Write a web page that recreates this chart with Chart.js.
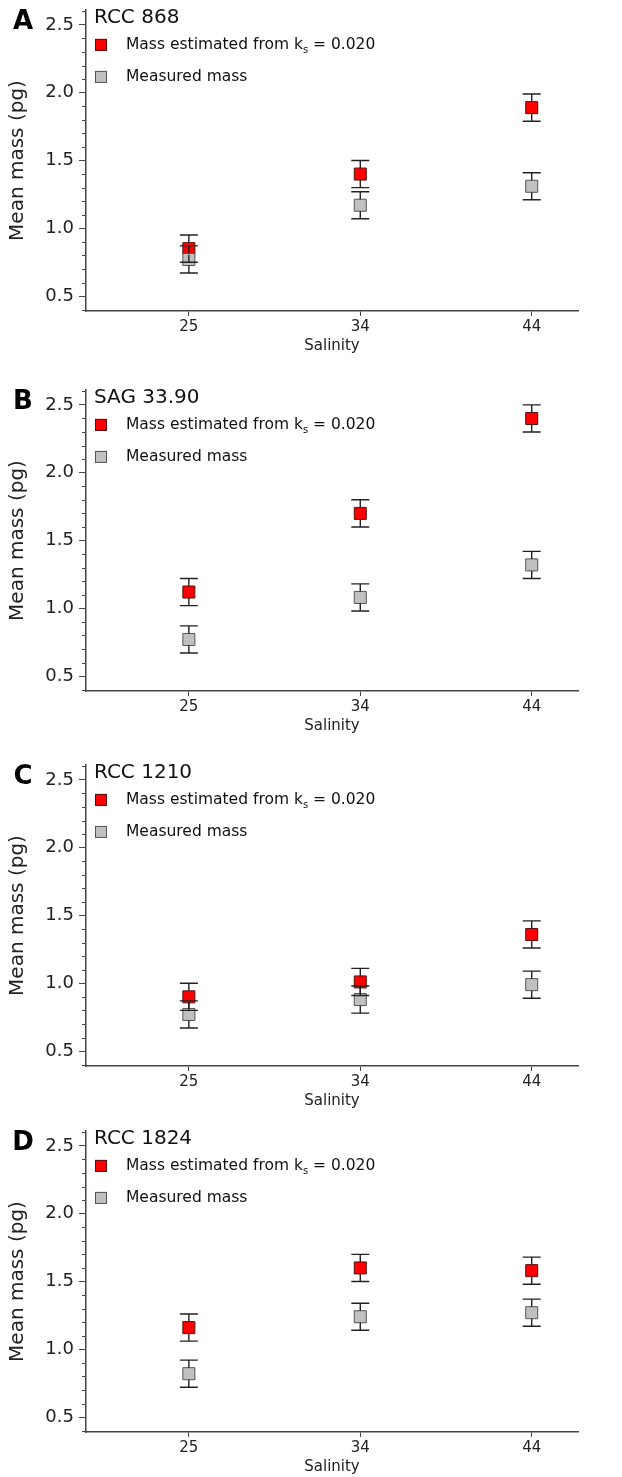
<!DOCTYPE html>
<html>
<head>
<meta charset="utf-8">
<script src="https://cdn.jsdelivr.net/npm/chart.js@4"></script>
<style>
  html, body { margin: 0; padding: 0; background: #fff; overflow: hidden; }
  #wrap { position: relative; width: 622px; height: 1477px; }
  canvas { position: absolute; left: 0; }
</style>
</head>
<body>
<div id="wrap">
  <canvas id="panelA" width="622" height="359" style="top:0px"></canvas>
  <canvas id="panelB" width="622" height="359" style="top:380px"></canvas>
  <canvas id="panelC" width="622" height="359" style="top:755px"></canvas>
  <canvas id="panelD" width="622" height="359" style="top:1121px"></canvas>
</div>
<script>
// salinity categories on the x axis
const salinity = ['25', '34', '44'];
const panelLetters = ['A', 'B', 'C', 'D'];
const strains = ['RCC 868', 'SAG 33.90', 'RCC 1210', 'RCC 1824'];

// mean mass (pg), estimated from ks = 0.020
const estimatedA = [0.85, 1.40, 1.89];
const estimatedB = [1.12, 1.70, 2.40];
const estimatedC = [0.90, 1.01, 1.36];
const estimatedD = [1.16, 1.60, 1.58];

// mean mass (pg), measured
const measuredA = [0.77, 1.17, 1.31];
const measuredB = [0.77, 1.08, 1.32];
const measuredC = [0.77, 0.88, 0.99];
const measuredD = [0.82, 1.24, 1.27];

// error bar half-widths (pg)
const errorBars = [0.10, 0.10, 0.10];

const yTicks = [0.5, 1.0, 1.5, 2.0, 2.5];

Chart.defaults.font.family = '"DejaVu Sans", Verdana, sans-serif';
Chart.defaults.color = '#222';

const AXIS = '#444';

const panelPlugin = {
    id: 'panelDecor',
    afterDatasetsDraw(chart) {
        const ctx = chart.ctx;
        const y = chart.scales.y;
        ctx.save();
        ctx.strokeStyle = '#222';
        ctx.lineWidth = 1.4;
        chart.data.datasets.forEach((ds, i) => {
            const meta = chart.getDatasetMeta(i);
            meta.data.forEach((pt, j) => {
                const v = ds.data[j].y;
                const e = ds.errors[j];
                const yt = y.getPixelForValue(v + e);
                const yb = y.getPixelForValue(v - e);
                const half = 6;
                ctx.beginPath();
                ctx.moveTo(pt.x, yt); ctx.lineTo(pt.x, pt.y - half);
                ctx.moveTo(pt.x, pt.y + half); ctx.lineTo(pt.x, yb);
                ctx.moveTo(pt.x - 9, yt); ctx.lineTo(pt.x + 9, yt);
                ctx.moveTo(pt.x - 9, yb); ctx.lineTo(pt.x + 9, yb);
                ctx.stroke();
            });
        });
        ctx.restore();
    },
    afterDraw(chart, args, opts) {
        const ctx = chart.ctx;
        const y = chart.scales.y;
        const area = chart.chartArea;
        ctx.save();

        // minor ticks every 0.1
        ctx.strokeStyle = AXIS;
        ctx.lineWidth = 1;
        for (let k = 4; k <= 26; k++) {
            if (k % 5 === 0) continue;
            const py = Math.round(y.getPixelForValue(k / 10)) + 0.5;
            if (py < area.top || py > area.bottom) continue;
            ctx.beginPath();
            ctx.moveTo(area.left - 4, py);
            ctx.lineTo(area.left, py);
            ctx.stroke();
        }

        const p25 = y.getPixelForValue(2.5);

        // panel letter
        ctx.fillStyle = '#000';
        ctx.font = 'bold 26px "DejaVu Sans", sans-serif';
        ctx.textAlign = 'center';
        ctx.textBaseline = 'middle';
        ctx.fillText(opts.letter, 23, p25 - 3);

        // strain name
        ctx.fillStyle = '#111';
        ctx.font = '20px "DejaVu Sans", sans-serif';
        ctx.textAlign = 'left';
        ctx.fillText(opts.strain, area.left + 8, p25 - 7);

        // legend
        const boxes = [
            {fill: '#ff0000', stroke: '#5a1010', dy: 20},
            {fill: '#c0c0c0', stroke: '#555', dy: 52}
        ];
        boxes.forEach(b => {
            const cy = p25 + b.dy;
            ctx.fillStyle = b.fill;
            ctx.strokeStyle = b.stroke;
            ctx.lineWidth = 1;
            ctx.fillRect(area.left + 9, cy - 6, 12, 12);
            ctx.strokeRect(area.left + 9.5, cy - 5.5, 11, 11);
        });
        ctx.fillStyle = '#111';
        const legFont = '15.5px "DejaVu Sans", sans-serif';
        ctx.font = legFont;
        let tx = area.left + 40;
        const ly = p25 + 20;
        const part1 = 'Mass estimated from k';
        ctx.fillText(part1, tx, ly);
        tx += ctx.measureText(part1).width;
        ctx.font = '10px "DejaVu Sans", sans-serif';
        ctx.fillText('s', tx, ly + 5);
        tx += ctx.measureText('s').width;
        ctx.font = legFont;
        ctx.fillText(' = 0.020', tx, ly);
        ctx.fillText('Measured mass', area.left + 40, p25 + 52);

        ctx.restore();
    }
};

function toPoints(values) {
    return values.map((v, i) => ({x: i, y: v}));
}

function makePanel(id, idx, estimated, measured) {
    new Chart(document.getElementById(id), {
        type: 'scatter',
        data: {
            datasets: [
                {
                    label: 'Measured mass',
                    data: toPoints(measured),
                    errors: errorBars,
                    pointStyle: 'rect',
                    pointRadius: 8.5,
                    backgroundColor: '#c0c0c0',
                    borderColor: '#555',
                    borderWidth: 1
                },
                {
                    label: 'Mass estimated from ks = 0.020',
                    data: toPoints(estimated),
                    errors: errorBars,
                    pointStyle: 'rect',
                    pointRadius: 8.5,
                    backgroundColor: '#ff0000',
                    borderColor: '#5a1010',
                    borderWidth: 1
                }
            ]
        },
        options: {
            responsive: false,
            animation: false,
            layout: {padding: {top: 10, right: 44, left: 0, bottom: 0}},
            plugins: {
                legend: {display: false},
                tooltip: {enabled: false},
                panelDecor: {letter: panelLetters[idx], strain: strains[idx]}
            },
            scales: {
                x: {
                    type: 'linear',
                    min: -0.6,
                    max: 2.27,
                    afterFit: s => { s.height = 48; s.paddingLeft = 0; s.paddingRight = 0; },
                    ticks: {
                        stepSize: 1,
                        includeBounds: false,
                        padding: 2,
                        font: {size: 15},
                        callback: v => salinity[v] !== undefined ? salinity[v] : ''
                    },
                    grid: {drawOnChartArea: false, tickLength: 5, color: AXIS},
                    border: {color: AXIS, width: 1.5},
                    title: {display: true, text: 'Salinity', font: {size: 15}, padding: {top: 2, bottom: 4}}
                },
                y: {
                    min: 0.39,
                    max: 2.61,
                    afterFit: s => { s.width = 86; s.paddingTop = 0; s.paddingBottom = 0; },
                    afterBuildTicks: s => { s.ticks = yTicks.map(v => ({value: v})); },
                    ticks: {
                        padding: 5,
                        font: {size: 18},
                        callback: v => Number(v).toFixed(1)
                    },
                    grid: {drawOnChartArea: false, tickLength: 7, color: AXIS},
                    border: {color: AXIS, width: 1.5},
                    title: {display: true, text: 'Mean mass (pg)', font: {size: 20}, padding: {top: 6, bottom: 0}}
                }
            }
        },
        plugins: [panelPlugin]
    });
}

makePanel('panelA', 0, estimatedA, measuredA);
makePanel('panelB', 1, estimatedB, measuredB);
makePanel('panelC', 2, estimatedC, measuredC);
makePanel('panelD', 3, estimatedD, measuredD);
</script>
</body>
</html>
